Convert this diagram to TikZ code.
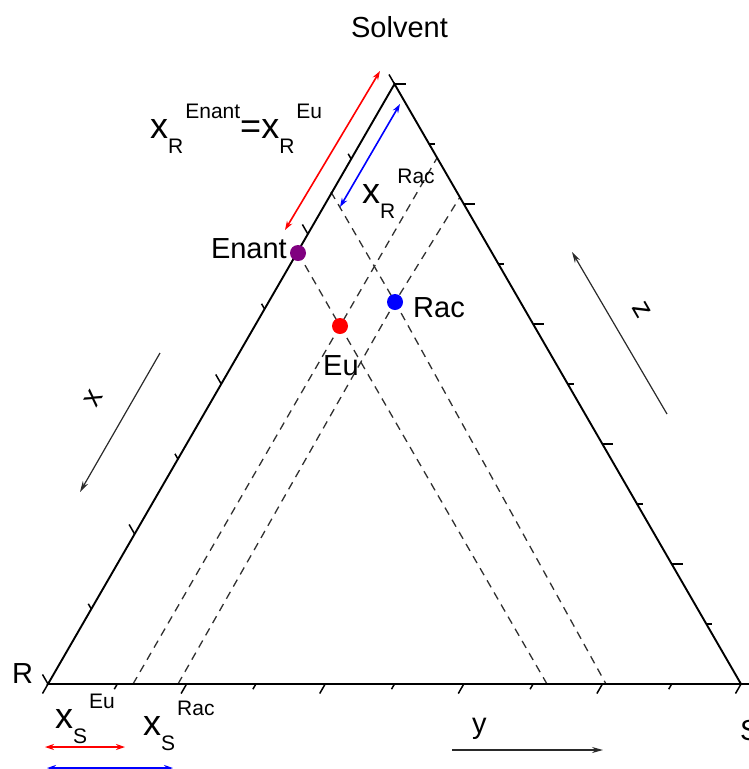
\documentclass[tikz,border=0pt]{standalone}
\usepackage{fontspec}
\setmainfont{Liberation Sans}
\usetikzlibrary{arrows.meta, calc, backgrounds}
\definecolor{enantfill}{HTML}{800080}
\definecolor{eufill}{HTML}{FF0000}
\definecolor{racfill}{HTML}{0000FF}
\definecolor{guideline}{HTML}{303030}
\definecolor{dirline}{HTML}{2A2A2A}
\newcommand{\fsz}[1]{\fontsize{#1}{#1}\selectfont}
\newcommand{\xfrac}[2]{{\fsz{36}x}\raisebox{-15pt}{\fsz{21}#1}\hspace{2pt}\raisebox{20pt}{\fsz{21}#2}}
\tikzset{
  edge/.style    = {line width=1.9pt, draw=black, line join=miter},
  tickln/.style  = {line width=1.5pt, draw=black},
  guide/.style   = {dash pattern=on 8pt off 6pt, line width=1.3pt, draw=guideline},
  spot/.style    = {circle, inner sep=0pt, minimum size=16pt},
  lbl/.style     = {font=\fsz{29}, inner sep=0pt},
  frac/.style    = {inner sep=0pt, anchor=base west},
  span/.style    = {{Stealth[length=9pt,width=6pt]}-{Stealth[length=9pt,width=6pt]}, line width=1.6pt},
  dirarr/.style  = {-{Stealth[length=11pt,width=6pt]}, line width=1.2pt, draw=dirline},
}

\begin{document}
\begin{tikzpicture}[x=1pt, y=1pt]
	\useasboundingbox (0,0) rectangle (749,-769);
	% corners of the ternary plot
	\coordinate (R) at (48,-684);
	\coordinate (S) at (741,-684);
	\coordinate (T) at (394.5,-84);
	\draw[edge] (R) -- (S) -- (T) -- cycle;
	% ticks
	\foreach \i in {0,...,10}{
		\pgfmathsetmacro\tl{ifthenelse(mod(\i,2)==0,11,6)}
		\draw[tickln] ($(R)!\i/10!(S)$) -- ++(240:\tl);
		\draw[tickln] ($(T)!\i/10!(S)$) -- ++(0:\tl);
	}
	\foreach \i in {0,...,8}{
		\pgfmathsetmacro\tl{ifthenelse(mod(\i,2)==0,11,6)}
		\draw[tickln] ($(R)!\i/8!(T)$) -- ++(120:\tl);
	}
	% compositions
	\node[spot, fill=enantfill] (enant) at (298,-253) {};
	\node[spot, fill=eufill] (eu) at (340,-326) {};
	\node[spot, fill=racfill] (rac) at (395,-302) {};
	\coordinate (g1) at (547,-684);
	\coordinate (g2a) at (331,-192);
	\coordinate (g2b) at (606,-684);
	\coordinate (g3a) at (133,-684);
	\coordinate (g3b) at (437,-158);
	\coordinate (g4a) at (178,-684);
	\coordinate (g4b) at (460,-197);
	\begin{scope}[on background layer]
		\draw[guide] (enant.center) -- (eu.center) -- (g1);
		\draw[guide] (g2a) -- (rac.center) -- (g2b);
		\draw[guide] (g3a) -- (eu.center) -- (g3b);
		\draw[guide] (g4a) -- (rac.center) -- (g4b);
	\end{scope}
	\node[lbl, anchor=base east] (enantlbl) at (287,-258) {Enant};
	\node[lbl, anchor=base west] (eulbl) at (323,-375) {Eu};
	\node[lbl, anchor=base west] (raclbl) at (413,-317) {Rac};
	% vertices
	\node[lbl, anchor=base] (solv) at (399.5,-37) {Solvent};
	\node[lbl, anchor=base west] (rlbl) at (12,-683) {R};
	\node[lbl, anchor=base west] (slbl) at (740,-740) {S};
	% mass fractions
	\coordinate (redA) at (285,-230);
	\coordinate (redB) at (380,-71);
	\coordinate (blueA) at (340,-207);
	\coordinate (blueB) at (400,-104);
	\draw[span, red] (redA) -- (redB);
	\draw[span, blue] (blueA) -- (blueB);
	\node[frac] (xrenant) at (150,-138) {\xfrac{R}{Enant}{\fsz{36}=}\xfrac{R}{Eu}};
	\node[frac] (xrrac) at (362,-203) {\xfrac{R}{Rac}};
	\node[frac] (xseu) at (55,-728) {\xfrac{S}{Eu}};
	\node[frac] (xsrac) at (143,-735) {\xfrac{S}{Rac}};
	\coordinate (sredA) at (45,-747);
	\coordinate (sredB) at (125,-747);
	\coordinate (sblueA) at (47,-768);
	\coordinate (sblueB) at (173,-768);
	\draw[span, red] (sredA) -- (sredB);
	\draw[span, blue] (sblueA) -- (sblueB);
	% axis directions
	\coordinate (xa) at (160,-353);
	\coordinate (xb) at (80,-492);
	\coordinate (za) at (667,-414);
	\coordinate (zb) at (572,-252);
	\coordinate (ya) at (452,-750);
	\coordinate (yb) at (603,-750);
	\draw[dirarr] (xa) -- (xb);
	\draw[dirarr] (za) -- (zb);
	\draw[dirarr] (ya) -- (yb);
	\node[lbl, rotate=60] (xlbl) at (93,-398) {x};
	\node[lbl, rotate=-60] (zlbl) at (642,-310) {z};
	\node[lbl, anchor=base west] (ylbl) at (472,-733) {y};
\end{tikzpicture}
\end{document}
